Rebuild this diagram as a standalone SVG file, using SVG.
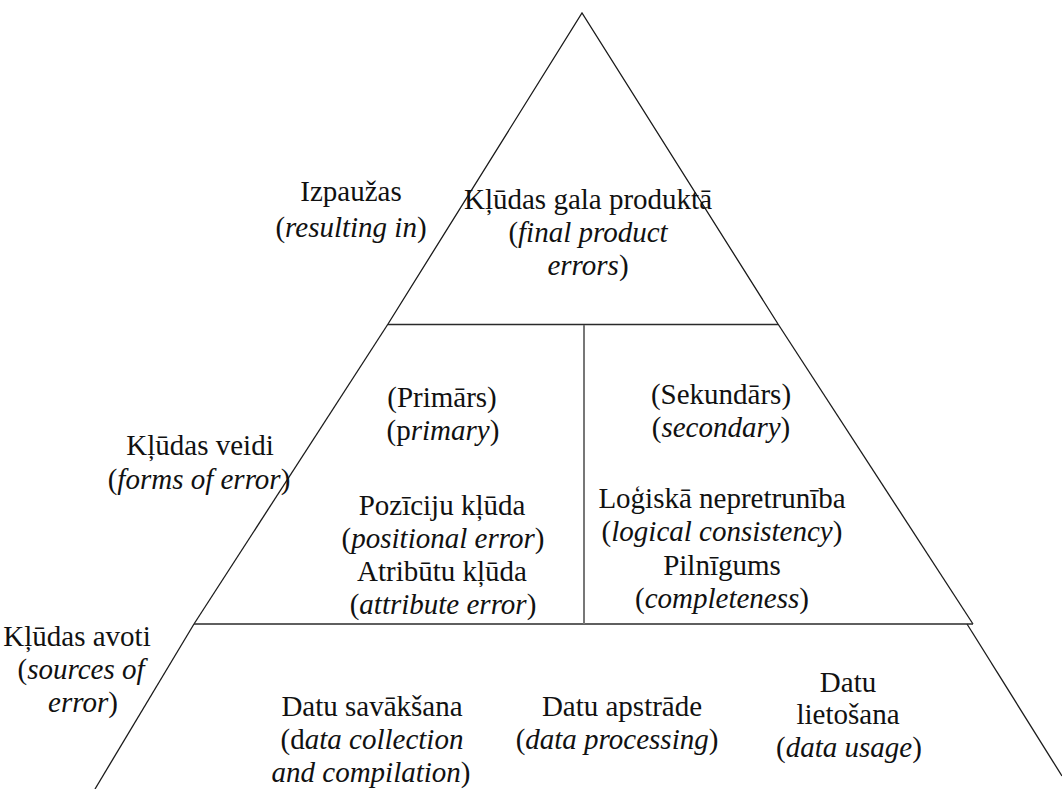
<svg xmlns="http://www.w3.org/2000/svg" width="1062" height="789" viewBox="0 0 1062 789" font-family="'Liberation Serif', Tinos, 'Times New Roman', Times, 'DejaVu Serif', serif">
  <style>
    .edge { fill: none; stroke: #1a1a1a; stroke-width: 1.3; }
    .rule { fill: none; stroke: #2a2a2a; stroke-width: 1.6; }
    .divider { fill: none; stroke: #777; stroke-width: 2; }
    text { font-family: "Liberation Serif", Tinos, "Times New Roman", Times, "DejaVu Serif", serif; font-size: 29px; fill: #111; text-anchor: middle; }
    .i { font-style: italic; }
  </style>
  <rect width="1062" height="789" fill="#fff"/>

  <!-- pyramid outline and tier separators -->
  <g id="connectors">
    <polyline class="edge" points="388,324 582,13 778,324"/>
    <line class="edge" x1="388" y1="324" x2="194" y2="624"/>
    <line class="edge" x1="778" y1="324" x2="973" y2="624"/>
    <line class="edge" x1="194" y1="624" x2="95" y2="789"/>
    <line class="edge" x1="967" y1="624" x2="1062" y2="776"/>
    <line class="rule" x1="388" y1="324.5" x2="778" y2="324.5"/>
    <line class="rule" x1="194" y1="624" x2="973" y2="624"/>
    <line class="divider" x1="584" y1="325" x2="584" y2="624"/>
  </g>

  <!-- top tier -->
  <g id="label-resulting">
    <text x="351" y="201">Izpaužas</text>
    <text x="351" y="237">(<tspan class="i">resulting in</tspan>)</text>
  </g>
  <g id="node-final-product">
    <text x="588" y="209">Kļūdas gala produktā</text>
    <text x="588" y="242">(<tspan class="i">final product</tspan></text>
    <text x="588" y="275"><tspan class="i">errors</tspan>)</text>
  </g>

  <!-- middle tier -->
  <g id="label-forms">
    <text x="200" y="455">Kļūdas veidi</text>
    <text x="199" y="489">(<tspan class="i">forms of error</tspan>)</text>
  </g>
  <g id="node-primary">
    <text x="442" y="407">(Primārs)</text>
    <text x="443" y="440">(p<tspan class="i">rimary</tspan>)</text>
    <text x="442" y="515">Pozīciju kļūda</text>
    <text x="443" y="548">(<tspan class="i">positional error</tspan>)</text>
    <text x="442" y="581">Atribūtu kļūda</text>
    <text x="443" y="614">(<tspan class="i">attribute error</tspan>)</text>
  </g>
  <g id="node-secondary">
    <text x="721" y="404">(Sekundārs)</text>
    <text x="721" y="437">(<tspan class="i">secondary</tspan>)</text>
    <text x="722" y="508">Loģiskā nepretrunība</text>
    <text x="722" y="541">(<tspan class="i">logical consistency</tspan>)</text>
    <text x="722" y="575">Pilnīgums</text>
    <text x="722" y="608">(<tspan class="i">completeness</tspan>)</text>
  </g>

  <!-- bottom tier -->
  <g id="label-sources">
    <text x="77" y="646">Kļūdas avoti</text>
    <text x="81" y="679">(<tspan class="i">sources of</tspan></text>
    <text x="83" y="712"><tspan class="i">error</tspan>)</text>
  </g>
  <g id="node-collection">
    <text x="372" y="716">Datu savākšana</text>
    <text x="372" y="749">(d<tspan class="i">ata collection</tspan></text>
    <text x="371" y="782"><tspan class="i">and compilation</tspan>)</text>
  </g>
  <g id="node-processing">
    <text x="622" y="716">Datu apstrāde</text>
    <text x="617" y="749">(<tspan class="i">data processing</tspan>)</text>
  </g>
  <g id="node-usage">
    <text x="848" y="692">Datu</text>
    <text x="848" y="724">lietošana</text>
    <text x="849" y="757">(<tspan class="i">data usage</tspan>)</text>
  </g>
</svg>
